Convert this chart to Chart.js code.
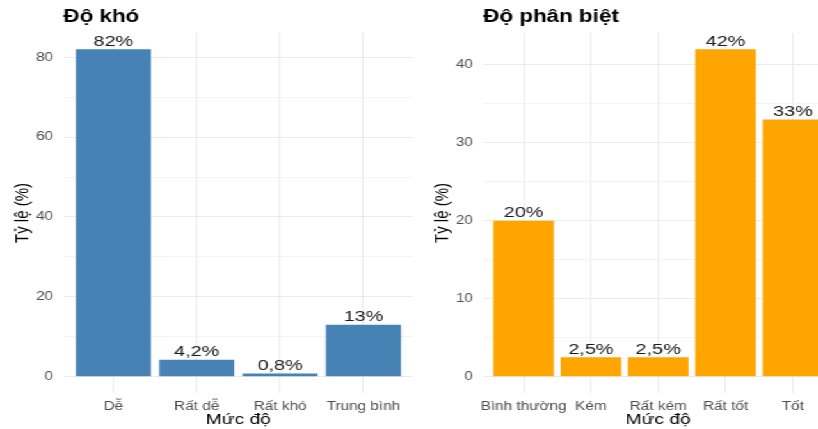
<!DOCTYPE html>
<html><head><meta charset="utf-8">
<script src="https://cdn.jsdelivr.net/npm/chart.js@4.4.1/dist/chart.umd.min.js"></script>
<style>
html,body{margin:0;padding:0;background:#fff;overflow:hidden;width:818px;height:429px}
#wrap{position:absolute;left:0;top:0;width:660px;height:429px;transform:scaleX(1.28);transform-origin:0 0}
canvas{position:absolute;top:0}
</style></head><body>
<div id="wrap">
<canvas id="c1" width="328" height="429" style="left:0px"></canvas>
<canvas id="c2" width="328" height="429" style="left:328px"></canvas>
</div>
<script>
// ---- data ----
const difficultyTitle = 'Độ khó';
const difficultyCategories = ['Dễ', 'Rất dễ', 'Rất khó', 'Trung bình'];
const difficultyValues = [82, 4.2, 0.8, 13];
const difficultyTicks = [0, 20, 40, 60, 80];

const discriminationTitle = 'Độ phân biệt';
const discriminationCategories = ['Bình thường', 'Kém', 'Rất kém', 'Rất tốt', 'Tốt'];
const discriminationValues = [20, 2.5, 2.5, 42, 33];
const discriminationTicks = [0, 10, 20, 30, 40];

const xTitle = 'Mức độ';
const yTitle = 'Tỷ lệ (%)';

const FONT = '"Liberation Sans", Arial, sans-serif';

const barLabels = {
  id: 'barLabels',
  afterDatasetsDraw(chart) {
    const ctx = chart.ctx;
    const meta = chart.getDatasetMeta(0);
    const vals = chart.data.datasets[0].data;
    ctx.save();
    ctx.font = '15.5px ' + FONT;
    ctx.fillStyle = '#1a1a1a';
    ctx.textAlign = 'center';
    ctx.textBaseline = 'alphabetic';
    meta.data.forEach((bar, i) => {
      const v = vals[i].y;
      ctx.fillText(String(v).replace('.', ',') + '%', bar.x, bar.y - 3.5);
    });
    ctx.restore();
  }
};

function makeChart(id, title, cats, vals, majorTicks, color) {
  const maxV = Math.max(...vals) * 1.05;
  const minV = -Math.max(...vals) * 0.05;
  const minor = [];
  for (let i = 0; i < majorTicks.length - 1; i++) minor.push((majorTicks[i] + majorTicks[i + 1]) / 2);
  const allY = majorTicks.concat(minor).sort((a, b) => a - b);
  const majorSet = new Set(majorTicks);
  return new Chart(document.getElementById(id), {
    type: 'bar',
    data: {
      datasets: [{
        data: vals.map((v, i) => ({ x: i + 1, y: v })),
        backgroundColor: color,
        borderWidth: 0,
        categoryPercentage: 1,
        barPercentage: 0.9
      }]
    },
    options: {
      responsive: false,
      animation: false,
      devicePixelRatio: 1,
      layout: { padding: { left: 0, right: 5, top: 0, bottom: 0 } },
      plugins: {
        legend: { display: false },
        tooltip: { enabled: false },
        title: {
          display: true, text: title, align: 'start', fullSize: false,
          color: '#000', font: { family: FONT, size: 17.5, weight: 'bold', lineHeight: 1.2 },
          padding: { top: 7, bottom: 5 }
        }
      },
      scales: {
        x: {
          type: 'linear', min: 0.4, max: cats.length + 0.6, offset: false,
          afterBuildTicks: (s) => { s.ticks = cats.map((c, i) => ({ value: i + 1 })); },
          afterFit: (s) => { s.height = 36; },
          ticks: {
            autoSkip: false, maxRotation: 0, minRotation: 0, padding: 6,
            color: '#4d4d4d', font: { family: FONT, size: 12 },
            callback: (v) => cats[Math.round(v) - 1]
          },
          grid: { color: '#ebebeb', lineWidth: 1, drawTicks: false, offset: false },
          border: { display: false },
          title: {
            display: true, text: xTitle, color: '#000',
            font: { family: FONT, size: 15, lineHeight: 1.2 }, padding: { top: 0, bottom: 0 }
          }
        },
        y: {
          min: minV, max: maxV,
          afterBuildTicks: (s) => { s.ticks = allY.map(v => ({ value: v })); },
          afterFit: (s) => { s.width = 49.5; },
          ticks: {
            padding: 8, color: '#4d4d4d', font: { family: FONT, size: 12 },
            callback: (v) => majorSet.has(v) ? String(v) : ''
          },
          grid: {
            drawTicks: false, lineWidth: 1,
            color: (c) => (c.tick && majorSet.has(c.tick.value)) ? '#ebebeb' : '#f3f3f3'
          },
          border: { display: false },
          title: {
            display: true, text: yTitle, color: '#000',
            font: { family: FONT, size: 15, lineHeight: 1.2 }, padding: { top: 9, bottom: 0 }
          }
        }
      }
    },
    plugins: [barLabels]
  });
}

makeChart('c1', difficultyTitle, difficultyCategories, difficultyValues, difficultyTicks, '#4682B4');
makeChart('c2', discriminationTitle, discriminationCategories, discriminationValues, discriminationTicks, '#FFA500');
</script>
</body></html>
